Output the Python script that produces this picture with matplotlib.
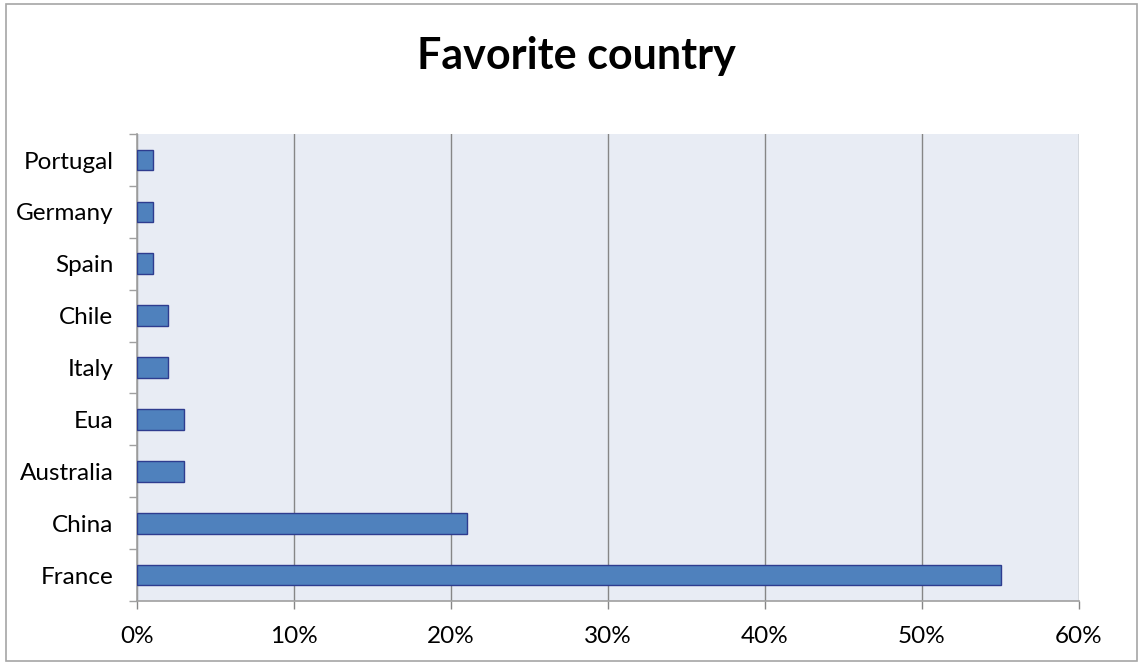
import matplotlib
matplotlib.use('Agg')
import matplotlib.pyplot as plt
from matplotlib.patches import Rectangle
from matplotlib.ticker import FixedLocator, PercentFormatter

countries = ['France', 'China', 'Australia', 'Eua', 'Italy', 'Chile', 'Spain', 'Germany', 'Portugal']
share = [55, 21, 3, 3, 2, 2, 1, 1, 1]
xticks = [0, 10, 20, 30, 40, 50, 60]

plt.rcParams['font.family'] = ['Lato', 'DejaVu Sans']

fig = plt.figure(figsize=(11.4, 6.64), dpi=100)
ax = fig.add_axes([0.1202, 0.0949, 0.8263, 0.7031])
ax.set_facecolor('#E8ECF4')

pos = list(range(len(countries)))
ax.barh(pos, share, height=0.4, color='#4F81BD', edgecolor='#2E3C8F', linewidth=1, zorder=3)

ax.set_xlim(0, 60)
ax.set_ylim(-0.5, len(countries) - 0.5)
ax.set_xticks(xticks)
ax.xaxis.set_major_formatter(PercentFormatter(decimals=0))
ax.grid(axis='x', color='#868686', linewidth=1, zorder=1)

# category boundaries get the tick marks, names sit between them
ax.yaxis.set_major_locator(FixedLocator([p - 0.5 for p in pos] + [len(countries) - 0.5]))
ax.yaxis.set_major_formatter(plt.NullFormatter())
ax.yaxis.set_minor_locator(FixedLocator(pos))
ax.set_yticklabels(countries, minor=True)
ax.tick_params(axis='y', which='major', length=6, width=1, color='#A0A0A0', direction='out')
ax.tick_params(axis='y', which='minor', length=0, pad=17, labelsize=17.5)
ax.tick_params(axis='x', length=6, width=1, color='#868686', direction='out', pad=12, labelsize=17.5)

for side in ['top', 'right']:
    ax.spines[side].set_visible(False)
ax.spines['left'].set_color('#A0A0A0')
ax.spines['bottom'].set_color('#A0A0A0')
ax.spines['left'].set_linewidth(1.2)
ax.spines['bottom'].set_linewidth(1.2)

fig.text(0.506, 0.915, 'Favorite country', ha='center', va='center', fontsize=31, fontweight='bold')

# chart border
fig.patches.append(Rectangle((6 / 1140, 3 / 664), 1131 / 1140, 657 / 664, transform=fig.transFigure,
                             fill=False, edgecolor='#A6A6A6', linewidth=1.2))

fig.savefig('out.png', dpi=100)
